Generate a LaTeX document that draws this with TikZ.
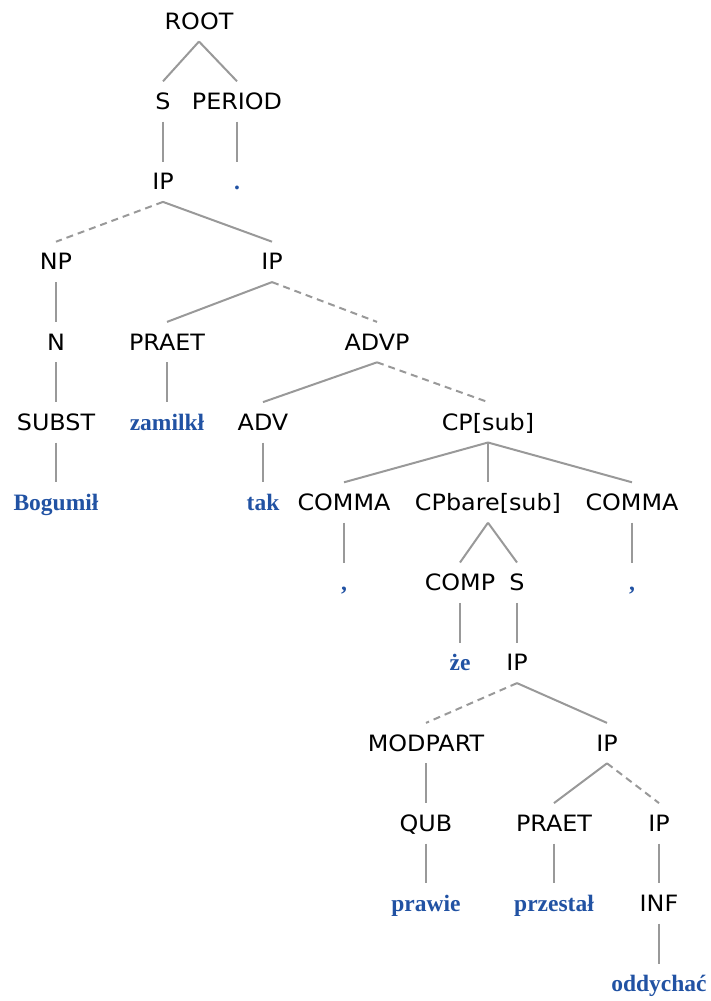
\documentclass[tikz,border=0pt]{standalone}
\usepackage{fontspec}
\newfontfamily\labfont[FakeStretch=1.06]{DejaVu Sans}
\newfontfamily\leaffont{Liberation Serif}
\definecolor{leafblue}{HTML}{2152A3}
\definecolor{edgegray}{HTML}{999999}
\tikzset{
  lab/.style={font=\labfont\fontsize{22.5}{24}\selectfont, text=black, inner sep=0pt, text height=16pt, text depth=0pt, minimum height=40pt},
  leaf/.style={font=\leaffont\bfseries\fontsize{23.5}{25}\selectfont, text=leafblue, inner sep=0pt, text height=16pt, text depth=0pt, minimum height=40pt},
  edge/.style={draw=edgegray, line width=2pt},
  dedge/.style={edge, dash pattern=on 7pt off 5pt}
}
\begin{document}
\begin{tikzpicture}[x=1pt,y=-1pt]
\useasboundingbox (0,0) rectangle (711,1001);
\node[lab] (root) at (199,21.3) {ROOT};
\node[lab] (s1) at (163,101.5) {S};
\node[lab] (period) at (237,101.5) {PERIOD};
\node[lab] (ip1) at (163,181.7) {IP};
\node[leaf] (dot) at (237,181.7) {.};
\node[lab] (np) at (56,261.9) {NP};
\node[lab] (ip2) at (272,261.9) {IP};
\node[lab] (n) at (56,342.1) {N};
\node[lab] (praet1) at (167,342.1) {PRAET};
\node[lab] (advp) at (377,342.1) {ADVP};
\node[lab] (subst) at (56,422.3) {SUBST};
\node[leaf] (zamilkl) at (167,422.3) {zamilkł};
\node[lab] (adv) at (263,422.3) {ADV};
\node[lab] (cpsub) at (488,422.3) {CP[sub]};
\node[leaf] (bogumil) at (56,502.5) {Bogumił};
\node[leaf] (tak) at (263,502.5) {tak};
\node[lab] (comma1) at (344,502.5) {COMMA};
\node[lab] (cpbare) at (488,502.5) {CPbare[sub]};
\node[lab] (comma2) at (632,502.5) {COMMA};
\node[leaf] (c1) at (344,582.7) {,};
\node[lab] (comp) at (460,582.7) {COMP};
\node[lab] (s2) at (517,582.7) {S};
\node[leaf] (c2) at (632,582.7) {,};
\node[leaf] (ze) at (460,662.9) {że};
\node[lab] (ip3) at (517,662.9) {IP};
\node[lab] (modpart) at (426,743.1) {MODPART};
\node[lab] (ip4) at (607,743.1) {IP};
\node[lab] (qub) at (426,823.3) {QUB};
\node[lab] (praet2) at (554,823.3) {PRAET};
\node[lab] (ip5) at (659,823.3) {IP};
\node[leaf] (prawie) at (426,903.5) {prawie};
\node[leaf] (przestal) at (554,903.5) {przestał};
\node[lab] (inf) at (659,903.5) {INF};
\node[leaf] (oddychac) at (659,983.7) {oddychać};

\draw[edge] (root.south) -- (s1.north);
\draw[edge] (root.south) -- (period.north);
\draw[edge] (s1.south) -- (ip1.north);
\draw[edge] (period.south) -- (dot.north);
\draw[dedge] (ip1.south) -- (np.north);
\draw[edge] (ip1.south) -- (ip2.north);
\draw[edge] (np.south) -- (n.north);
\draw[edge] (ip2.south) -- (praet1.north);
\draw[dedge] (ip2.south) -- (advp.north);
\draw[edge] (n.south) -- (subst.north);
\draw[edge] (praet1.south) -- (zamilkl.north);
\draw[edge] (advp.south) -- (adv.north);
\draw[dedge] (advp.south) -- (cpsub.north);
\draw[edge] (subst.south) -- (bogumil.north);
\draw[edge] (adv.south) -- (tak.north);
\draw[edge] (cpsub.south) -- (comma1.north);
\draw[edge] (cpsub.south) -- (cpbare.north);
\draw[edge] (cpsub.south) -- (comma2.north);
\draw[edge] (comma1.south) -- (c1.north);
\draw[edge] (comma2.south) -- (c2.north);
\draw[edge] (cpbare.south) -- (comp.north);
\draw[edge] (cpbare.south) -- (s2.north);
\draw[edge] (comp.south) -- (ze.north);
\draw[edge] (s2.south) -- (ip3.north);
\draw[dedge] (ip3.south) -- (modpart.north);
\draw[edge] (ip3.south) -- (ip4.north);
\draw[edge] (modpart.south) -- (qub.north);
\draw[edge] (ip4.south) -- (praet2.north);
\draw[dedge] (ip4.south) -- (ip5.north);
\draw[edge] (qub.south) -- (prawie.north);
\draw[edge] (praet2.south) -- (przestal.north);
\draw[edge] (ip5.south) -- (inf.north);
\draw[edge] (inf.south) -- (oddychac.north);
\end{tikzpicture}
\end{document}
